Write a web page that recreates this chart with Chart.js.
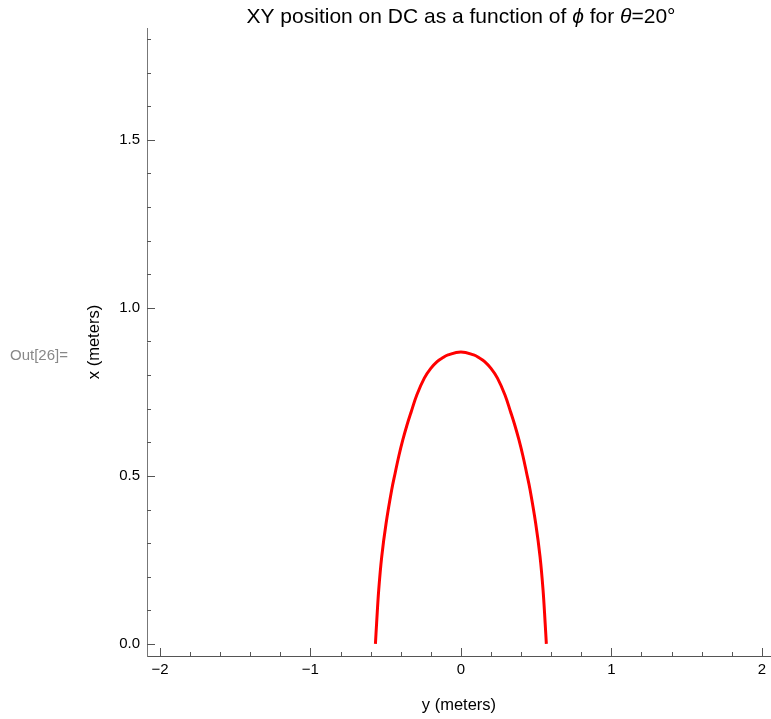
<!DOCTYPE html>
<html>
<head>
<meta charset="utf-8">
<script src="https://cdn.jsdelivr.net/npm/chart.js@4.4.0/dist/chart.umd.min.js"></script>
<style>
  html, body { margin: 0; padding: 0; background: #fff; }
  #wrap { position: relative; width: 771px; height: 719px; }
</style>
</head>
<body>
<div id="wrap"><canvas id="myChart" width="771" height="719"></canvas></div>
<script>
// horizontal position (y, meters) and vertical position (x, meters) along the track
const yMeters = [-0.568, -0.560, -0.546, -0.526, -0.497, -0.460, -0.437, -0.412, -0.386, -0.359, -0.330, -0.293,
                 -0.243, -0.200, -0.158, -0.126, -0.085, 0,
                 0.085, 0.126, 0.158, 0.200, 0.243, 0.293, 0.330, 0.359, 0.386, 0.412, 0.437, 0.460,
                 0.497, 0.526, 0.546, 0.560, 0.568];
const xMeters = [0, 0.062, 0.161, 0.260, 0.359, 0.458, 0.508, 0.560, 0.607, 0.650, 0.691, 0.741,
                 0.791, 0.820, 0.840, 0.850, 0.860, 0.869,
                 0.860, 0.850, 0.840, 0.820, 0.791, 0.741, 0.691, 0.650, 0.607, 0.560, 0.508, 0.458,
                 0.359, 0.260, 0.161, 0.062, 0];

const xTickLabels = [-2, -1, 0, 1, 2];
const yTickLabels = [0, 0.5, 1.0, 1.5];

const FONT = "'Liberation Sans', Arial, sans-serif";

// minor tick positions
const xMinor = [];
for (let i = -10; i <= 10; i++) xMinor.push(i / 5);
const yMinor = [];
for (let i = 0; i <= 18; i++) yMinor.push(i / 10);

const points = yMeters.map((v, i) => ({ x: v, y: xMeters[i] }));

// inward tick marks, Mathematica style
const axisTicks = {
  id: 'axisTicks',
  afterDraw(chart) {
    const { ctx, chartArea, scales: { x, y } } = chart;
    ctx.save();
    ctx.strokeStyle = '#555';
    ctx.lineWidth = 1;
    ctx.beginPath();
    xMinor.forEach(v => {
      const px = Math.round(x.getPixelForValue(v)) + 0.5;
      const len = Number.isInteger(v) ? 8 : 4;
      ctx.moveTo(px, chartArea.bottom);
      ctx.lineTo(px, chartArea.bottom - len);
    });
    yMinor.forEach(v => {
      const py = Math.round(y.getPixelForValue(v)) + 0.5;
      const len = Math.abs(v * 2 - Math.round(v * 2)) < 1e-6 ? 8 : 4;
      ctx.moveTo(chartArea.left, py);
      ctx.lineTo(chartArea.left + len, py);
    });
    ctx.stroke();
    ctx.restore();
  }
};

// title with italic greek letters, plus the notebook output tag
const headerText = {
  id: 'headerText',
  afterDraw(chart) {
    const ctx = chart.ctx;
    const parts = [
      ['XY position on DC as a function of ', false],
      ['\u03D5', true],
      [' for ', false],
      ['\u03B8', true],
      ['=20\u00B0', false]
    ];
    ctx.save();
    ctx.fillStyle = '#000';
    ctx.textBaseline = 'middle';
    let total = 0;
    parts.forEach(([t, it]) => {
      ctx.font = (it ? 'italic ' : '') + '21px ' + FONT;
      total += ctx.measureText(t).width;
    });
    let cx = 461 - total / 2;
    parts.forEach(([t, it]) => {
      ctx.font = (it ? 'italic ' : '') + '21px ' + FONT;
      ctx.fillText(t, cx, 17);
      cx += ctx.measureText(t).width;
    });

    ctx.fillStyle = '#888';
    ctx.font = '15px ' + FONT;
    ctx.textAlign = 'left';
    ctx.fillText('Out[26]=', 10, 356);
    ctx.restore();
  }
};

const ctx = document.getElementById('myChart').getContext('2d');
const myChart = new Chart(ctx, {
  type: 'line',
  data: {
    datasets: [{
      data: points,
      borderColor: 'rgb(255, 0, 0)',
      borderWidth: 3,
      pointRadius: 0,
      fill: false,
      tension: 0.4
    }]
  },
  options: {
    responsive: false,
    animation: false,
    devicePixelRatio: 1,
    layout: { padding: { top: 28, left: 0, right: 0, bottom: 0 } },
    plugins: {
      legend: { display: false },
      tooltip: { enabled: false }
    },
    scales: {
      x: {
        type: 'linear',
        min: -2.086,
        max: 2.06,
        afterFit: s => { s.height = 63; },
        afterBuildTicks: s => { s.ticks = xTickLabels.map(v => ({ value: v })); },
        grid: { display: false, drawTicks: false },
        border: { display: true, color: '#555', width: 1 },
        ticks: {
          padding: 5,
          color: '#000',
          font: { family: FONT, size: 15 },
          callback: v => (v < 0 ? '\u2212' + Math.abs(v) : String(v))
        },
        title: {
          display: true,
          text: 'y (meters)',
          color: '#000',
          font: { family: FONT, size: 16.5 },
          padding: { top: 0, bottom: 4 }
        }
      },
      y: {
        type: 'linear',
        min: -0.036,
        max: 1.833,
        afterFit: s => { s.width = 147; },
        afterBuildTicks: s => { s.ticks = yTickLabels.map(v => ({ value: v })); },
        grid: { display: false, drawTicks: false },
        border: { display: true, color: '#777', width: 1 },
        ticks: {
          padding: 7,
          color: '#000',
          font: { family: FONT, size: 15 },
          callback: v => Number(v).toFixed(1)
        },
        title: {
          display: true,
          text: 'x (meters)',
          color: '#000',
          font: { family: FONT, size: 16.5 },
          padding: { top: 85, bottom: 0 }
        }
      }
    }
  },
  plugins: [axisTicks, headerText]
});
</script>
</body>
</html>
